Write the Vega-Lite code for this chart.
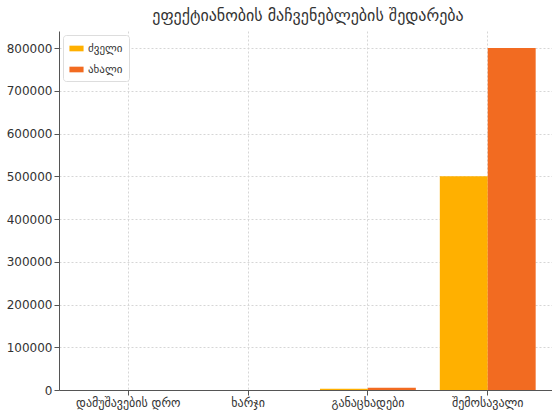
{
  "$schema": "https://vega.github.io/schema/vega-lite/v6.json",
  "autosize": {"type": "none"},
  "width": 498,
  "height": 359,
  "padding": {"left": 59, "top": 31, "right": 0, "bottom": 22},
  "background": "white",
  "title": {"text": "ეფექტიანობის მაჩვენებლების შედარება", "font": "DejaVu Sans", "fontSize": 16, "fontWeight": "normal", "color": "#333333", "offset": 7},
  "data": {"values": [
    {"category": "დამუშავების დრო", "series": "ძველი", "value": 40},
    {"category": "დამუშავების დრო", "series": "ახალი", "value": 30},
    {"category": "ხარჯი", "series": "ძველი", "value": 150},
    {"category": "ხარჯი", "series": "ახალი", "value": 120},
    {"category": "განაცხადები", "series": "ძველი", "value": 3000},
    {"category": "განაცხადები", "series": "ახალი", "value": 5000},
    {"category": "შემოსავალი", "series": "ძველი", "value": 500000},
    {"category": "შემოსავალი", "series": "ახალი", "value": 800000}
  ]},
  "mark": {"type": "bar"},
  "encoding": {
    "x": {"field": "category", "type": "nominal", "sort": null,
      "scale": {"paddingInner": 0.2, "paddingOuter": 0.178},
      "axis": {"title": null, "labelAngle": 0, "labelFont": "DejaVu Sans", "labelFontSize": 12, "labelColor": "#333333",
        "domainColor": "#555555", "tickColor": "#555555", "grid": true, "gridDash": [2, 2], "gridColor": "#d6d6d6", "bandPosition": 0.5}},
    "xOffset": {"field": "series", "type": "nominal", "sort": ["ძველი", "ახალი"]},
    "y": {"field": "value", "type": "quantitative",
      "scale": {"domain": [0, 840000], "nice": false},
      "axis": {"title": null, "values": [0, 100000, 200000, 300000, 400000, 500000, 600000, 700000, 800000], "format": "d",
        "labelFont": "DejaVu Sans", "labelFontSize": 12, "labelColor": "#333333", "domainColor": "#555555", "tickColor": "#555555",
        "gridDash": [2, 2], "gridColor": "#d6d6d6"}},
    "color": {"field": "series", "type": "nominal", "sort": ["ძველი", "ახალი"],
      "scale": {"domain": ["ძველი", "ახალი"], "range": ["#FFB000", "#F26B21"]},
      "legend": {"title": null, "orient": "top-left", "offset": 4, "labelFont": "DejaVu Sans", "labelFontSize": 11, "labelColor": "#333333",
        "symbolType": "M-1,-0.4H1V0.4H-1Z", "symbolSize": 200, "symbolStrokeWidth": 0,
        "strokeColor": "#dddddd", "fillColor": "white", "padding": 6, "cornerRadius": 3, "rowPadding": 8}}
  },
  "config": {"view": {"stroke": null}}
}
